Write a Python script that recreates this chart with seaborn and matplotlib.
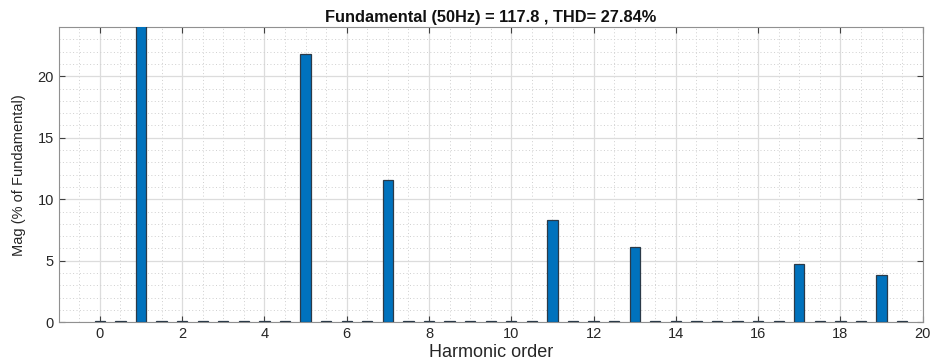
import numpy as np
import pandas as pd
import matplotlib
matplotlib.use("Agg")
import matplotlib.pyplot as plt
from matplotlib.ticker import MultipleLocator
import seaborn as sns

# Harmonic bins (0.5 resolution) and magnitudes (% of fundamental)
orders = [0.0, 0.5, 1.0, 1.5, 2.0, 2.5, 3.0, 3.5, 4.0, 4.5,
          5.0, 5.5, 6.0, 6.5, 7.0, 7.5, 8.0, 8.5, 9.0, 9.5,
          10.0, 10.5, 11.0, 11.5, 12.0, 12.5, 13.0, 13.5, 14.0, 14.5,
          15.0, 15.5, 16.0, 16.5, 17.0, 17.5, 18.0, 18.5, 19.0, 19.5]
mags = [0.08, 0.08, 100.0, 0.08, 0.08, 0.08, 0.08, 0.08, 0.08, 0.08,
        21.8, 0.08, 0.08, 0.08, 11.6, 0.08, 0.08, 0.08, 0.08, 0.08,
        0.08, 0.08, 8.3, 0.08, 0.08, 0.08, 6.1, 0.08, 0.08, 0.08,
        0.08, 0.08, 0.08, 0.08, 4.7, 0.08, 0.08, 0.08, 3.8, 0.08]
title = "Fundamental (50Hz) = 117.8 , THD= 27.84%"

df = pd.DataFrame({"order": orders, "mag": mags})

sns.set_theme(style="white")
plt.rcParams['font.family'] = ['Liberation Sans', 'DejaVu Sans']

fig = plt.figure(figsize=(9.33, 3.62), dpi=100)
ax = fig.add_axes([0.063, 0.110, 0.926, 0.815])

sns.barplot(data=df, x="order", y="mag", native_scale=True, width=0.5,
            color="#0072BD", saturation=1, edgecolor="#2b3a48",
            linewidth=0.9, ax=ax, zorder=3)

ax.set_xlim(-1, 20)
ax.set_ylim(0, 24)
ax.xaxis.set_major_locator(MultipleLocator(2))
ax.xaxis.set_minor_locator(MultipleLocator(0.5))
ax.yaxis.set_major_locator(MultipleLocator(5))
ax.yaxis.set_minor_locator(MultipleLocator(1))

ax.grid(which="major", color="#dcdcdc", linewidth=0.9, linestyle="-", zorder=0)
ax.grid(which="minor", color="#cfcfcf", linewidth=0.7, linestyle=(0, (1, 2.5)), zorder=0)
ax.set_axisbelow(True)

ax.tick_params(which="major", direction="in", length=4, width=0.8,
               top=True, right=True, bottom=True, left=True,
               colors="#404040", labelsize=10.5, labelcolor="#262626")
ax.tick_params(which="minor", length=0)
for s in ax.spines.values():
    s.set_color("#909090")
    s.set_linewidth(0.8)

ax.set_xlabel("Harmonic order", fontsize=13, color="#262626", labelpad=2)
ax.set_ylabel("Mag (% of Fundamental)", fontsize=10.5, color="#262626", labelpad=8)
ax.set_title(title, fontsize=11.8, fontweight="bold", color="#111111", pad=4)

fig.savefig("out.png", dpi=100)
